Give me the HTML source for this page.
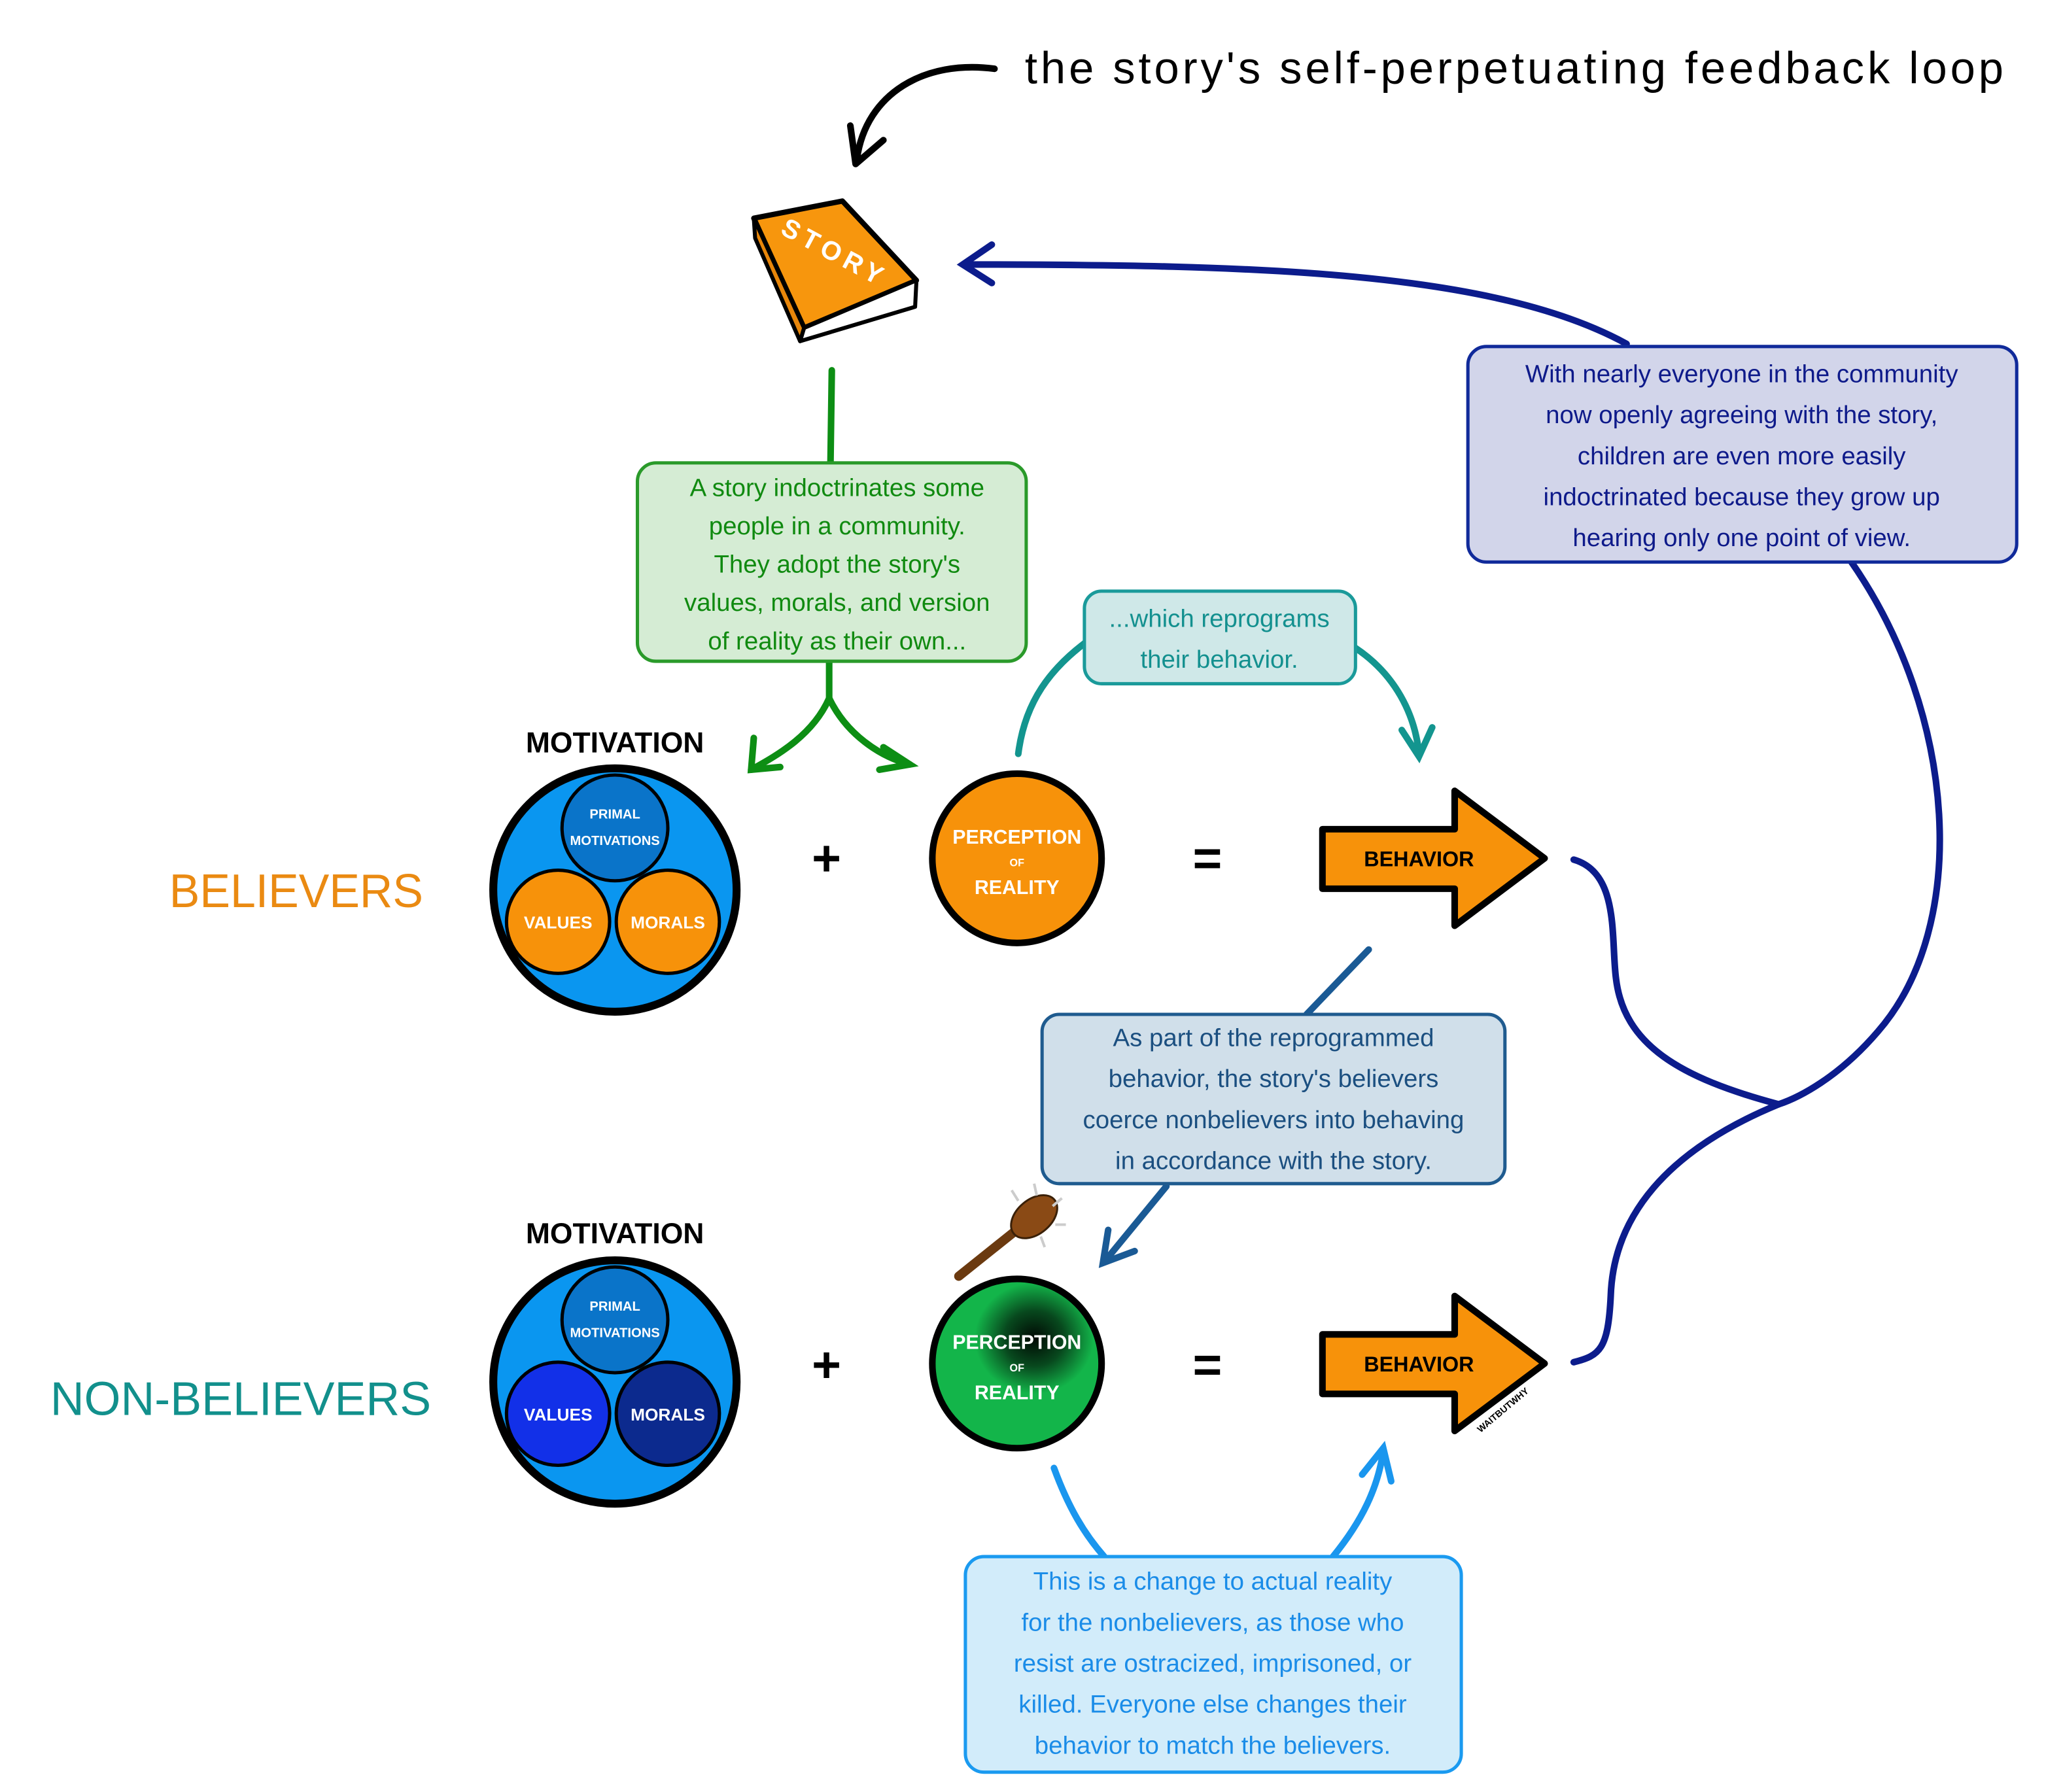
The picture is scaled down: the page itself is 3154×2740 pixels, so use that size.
<!DOCTYPE html>
<html><head><meta charset="utf-8"><style>
html,body{margin:0;padding:0;background:#fff;}
svg{display:block;}
text{font-family:"Liberation Sans","DejaVu Sans",sans-serif;}
</style></head><body>
<svg width="3154" height="2740" viewBox="0 0 1560 1355" preserveAspectRatio="none" xmlns="http://www.w3.org/2000/svg">
<defs>
<radialGradient id="dark" cx="0.5" cy="0.5" r="0.5">
<stop offset="0" stop-color="#000" stop-opacity="0.95"/>
<stop offset="0.5" stop-color="#000" stop-opacity="0.6"/>
<stop offset="1" stop-color="#000" stop-opacity="0"/>
</radialGradient>
</defs>
<rect width="1560" height="1355" fill="#fff"/>

<text x="775" y="63" font-size="34" fill="#000" textLength="740" lengthAdjust="spacing">the story's self-perpetuating feedback loop</text>
<path d="M752,52 C700,45 655,70 648,120" fill="none" stroke="#000" stroke-width="5" stroke-linecap="round"/>
<path d="M643,95 L647,124 L668,106" fill="none" stroke="#000" stroke-width="5" stroke-linecap="round" stroke-linejoin="round"/>

<g stroke="#000" stroke-linejoin="round">
<path d="M570,165 L637,152 L693,212 L608,248 Z" fill="#f7960d" stroke-width="4"/>
<path d="M608,248 L693,212 L692,232 L605,258 Z" fill="#fff" stroke-width="3"/>
<path d="M570,165 L608,248 L605,258 L571,180 Z" fill="#e8860a" stroke-width="3"/>
</g>
<text x="628" y="197" font-size="20" font-weight="bold" fill="#fff" text-anchor="middle" transform="rotate(28 628 197)" letter-spacing="4">STORY</text>

<g fill="none" stroke="#0c1c8c" stroke-width="5" stroke-linecap="round">
<path d="M1230,260 C1130,205 950,200 730,200"/>
<path d="M750,185 L728,200 L750,214"/>
<path d="M1400,425 C1480,540 1490,700 1420,780 C1390,815 1360,830 1345,835 C1260,870 1220,920 1218,980 C1216,1020 1210,1025 1190,1030"/>
<path d="M1190,650 C1225,660 1218,710 1222,740 C1228,790 1270,815 1345,835"/>
</g>

<rect x="1110" y="262" width="415" height="163" rx="14" fill="#d2d5ea" stroke="#102a9a" stroke-width="2.5"/>
<g font-size="19" fill="#0e1a8a" text-anchor="middle">
<text x="1317" y="289">With nearly everyone in the community</text>
<text x="1317" y="320">now openly agreeing with the story,</text>
<text x="1317" y="351">children are even more easily</text>
<text x="1317" y="382">indoctrinated because they grow up</text>
<text x="1317" y="413">hearing only one point of view.</text>
</g>

<g fill="none" stroke="#0d8e14" stroke-width="5" stroke-linecap="round">
<path d="M629,280 L628,350"/>
<path d="M627,500 L627,528 C615,555 590,570 568,582"/>
<path d="M627,528 C640,555 665,572 688,578"/>
<path d="M570,558 L568,582 L590,580"/>
<path d="M668,565 L688,578 L665,582"/>
</g>
<rect x="482" y="350" width="294" height="150" rx="14" fill="#d5ecd4" stroke="#2a9a2a" stroke-width="2.5"/>
<g font-size="19" fill="#108a10" text-anchor="middle">
<text x="633" y="375">A story indoctrinates some</text>
<text x="633" y="404">people in a community.</text>
<text x="633" y="433">They adopt the story's</text>
<text x="633" y="462">values, morals, and version</text>
<text x="633" y="491">of reality as their own...</text>
</g>

<g fill="none" stroke="#13958f" stroke-width="5" stroke-linecap="round">
<path d="M770,570 C775,530 795,505 822,485"/>
<path d="M1025,490 C1055,510 1070,540 1073,570"/>
<path d="M1060,552 L1073,572 L1083,550"/>
</g>
<rect x="820" y="447" width="205" height="70" rx="13" fill="#cfe8e8" stroke="#1a9a9a" stroke-width="2.5"/>
<g font-size="19" fill="#13908f" text-anchor="middle">
<text x="922" y="474">...which reprograms</text>
<text x="922" y="505">their behavior.</text>
</g>

<text x="128" y="686" font-size="36" fill="#ea8a12" textLength="192" lengthAdjust="spacingAndGlyphs">BELIEVERS</text>
<text x="38" y="1070" font-size="36" fill="#12908c" textLength="288" lengthAdjust="spacingAndGlyphs">NON-BELIEVERS</text>

<text x="465" y="569" font-size="22" font-weight="bold" text-anchor="middle">MOTIVATION</text>
<circle cx="465" cy="673" r="92" fill="#0a96f0" stroke="#000" stroke-width="6"/>
<circle cx="465" cy="626" r="40" fill="#0a74c9" stroke="#000" stroke-width="2.5"/>
<circle cx="422" cy="697" r="39" fill="#f7920a" stroke="#000" stroke-width="2.5"/>
<circle cx="505" cy="697" r="39" fill="#f7920a" stroke="#000" stroke-width="2.5"/>
<g font-size="10" font-weight="bold" fill="#fff" text-anchor="middle">
<text x="465" y="619">PRIMAL</text><text x="465" y="639">MOTIVATIONS</text>
</g>
<g font-size="13" font-weight="bold" fill="#fff" text-anchor="middle">
<text x="422" y="702">VALUES</text><text x="505" y="702">MORALS</text>
</g>

<text x="465" y="940" font-size="22" font-weight="bold" text-anchor="middle">MOTIVATION</text>
<circle cx="465" cy="1045" r="92" fill="#0a96f0" stroke="#000" stroke-width="6"/>
<circle cx="465" cy="998" r="40" fill="#0a74c9" stroke="#000" stroke-width="2.5"/>
<circle cx="422" cy="1069" r="39" fill="#1230e8" stroke="#000" stroke-width="2.5"/>
<circle cx="505" cy="1069" r="39" fill="#0c2a8e" stroke="#000" stroke-width="2.5"/>
<g font-size="10" font-weight="bold" fill="#fff" text-anchor="middle">
<text x="465" y="991">PRIMAL</text><text x="465" y="1011">MOTIVATIONS</text>
</g>
<g font-size="13" font-weight="bold" fill="#fff" text-anchor="middle">
<text x="422" y="1074">VALUES</text><text x="505" y="1074">MORALS</text>
</g>

<g font-size="38" font-weight="bold" text-anchor="middle">
<text x="625" y="662">+</text><text x="913" y="662">=</text>
<text x="625" y="1045">+</text><text x="913" y="1045">=</text>
</g>

<circle cx="769" cy="649" r="64" fill="#f7920a" stroke="#000" stroke-width="5"/>
<g fill="#fff" text-anchor="middle" font-weight="bold">
<text x="769" y="638" font-size="15">PERCEPTION</text>
<text x="769" y="655" font-size="8">OF</text>
<text x="769" y="676" font-size="15">REALITY</text>
</g>

<circle cx="769" cy="1031" r="64" fill="#13b54a" stroke="#000" stroke-width="5"/>
<ellipse cx="782" cy="1012" rx="45" ry="42" fill="url(#dark)"/>
<g fill="#fff" text-anchor="middle" font-weight="bold">
<text x="769" y="1020" font-size="15">PERCEPTION</text>
<text x="769" y="1037" font-size="8">OF</text>
<text x="769" y="1058" font-size="15">REALITY</text>
</g>

<g>
<path d="M725,965 L775,925" stroke="#6b3a10" stroke-width="7" stroke-linecap="round"/>
<ellipse cx="782" cy="920" rx="20" ry="13" transform="rotate(-40 782 920)" fill="#8a4a15" stroke="#3a2008" stroke-width="1.5"/>
<g stroke="#ccc" stroke-width="2"><path d="M770,908 L765,900"/><path d="M784,904 L782,895"/><path d="M796,912 L803,906"/><path d="M798,926 L806,926"/><path d="M787,935 L790,943"/></g>
</g>

<g fill="#f7920a" stroke="#000" stroke-width="5" stroke-linejoin="round">
<path d="M1000,627 L1100,627 L1100,598 L1168,649 L1100,700 L1100,672 L1000,672 Z"/>
<path d="M1000,1009 L1100,1009 L1100,980 L1168,1031 L1100,1082 L1100,1054 L1000,1054 Z"/>
</g>
<g font-size="16" font-weight="bold" text-anchor="middle">
<text x="1073" y="655">BEHAVIOR</text>
<text x="1073" y="1037">BEHAVIOR</text>
</g>
<text x="1138" y="1068" font-size="7" font-weight="bold" transform="rotate(-40 1138 1068)" text-anchor="middle">WAITBUTWHY</text>

<g fill="none" stroke="#1a5a95" stroke-width="5" stroke-linecap="round">
<path d="M1035,718 L988,767"/>
<path d="M882,897 L836,953"/>
<path d="M838,930 L834,955 L858,946"/>
</g>
<rect x="788" y="767" width="350" height="128" rx="13" fill="#d0dfea" stroke="#1f5b8f" stroke-width="2.5"/>
<g font-size="19" fill="#1b4f80" text-anchor="middle">
<text x="963" y="791">As part of the reprogrammed</text>
<text x="963" y="822">behavior, the story's believers</text>
<text x="963" y="853">coerce nonbelievers into behaving</text>
<text x="963" y="884">in accordance with the story.</text>
</g>

<g fill="none" stroke="#1a96ee" stroke-width="5" stroke-linecap="round">
<path d="M797,1110 C808,1140 820,1160 835,1177"/>
<path d="M1008,1177 C1030,1150 1042,1125 1046,1097"/>
<path d="M1030,1115 L1046,1095 L1052,1120"/>
</g>
<rect x="730" y="1177" width="375" height="163" rx="14" fill="#d2ecfa" stroke="#1a9af0" stroke-width="2.5"/>
<g font-size="19" fill="#1a8ce8" text-anchor="middle">
<text x="917" y="1202">This is a change to actual reality</text>
<text x="917" y="1233">for the nonbelievers, as those who</text>
<text x="917" y="1264">resist are ostracized, imprisoned, or</text>
<text x="917" y="1295">killed. Everyone else changes their</text>
<text x="917" y="1326">behavior to match the believers.</text>
</g>
</svg>
</body></html>
